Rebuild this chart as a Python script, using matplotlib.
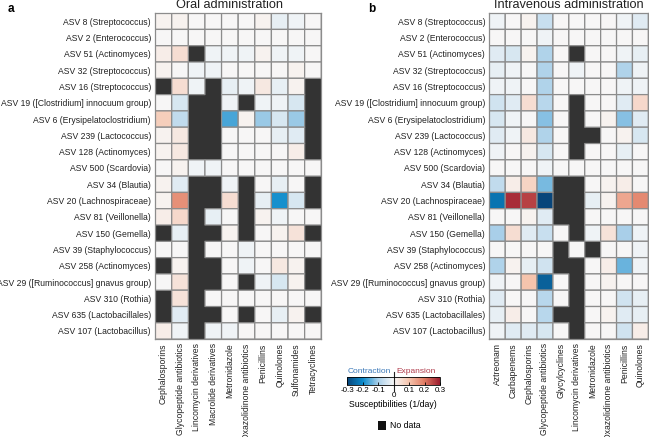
import numpy as np
import matplotlib
matplotlib.use("Agg")
import matplotlib.pyplot as plt
from matplotlib.colors import LinearSegmentedColormap, Normalize
from matplotlib.patches import Rectangle

plt.rcParams['font.family'] = ['Liberation Sans', 'DejaVu Sans']

nan = np.nan

asvs = ["ASV 8 (Streptococcus)", "ASV 2 (Enterococcus)", "ASV 51 (Actinomyces)",
        "ASV 32 (Streptococcus)", "ASV 16 (Streptococcus)",
        "ASV 19 ([Clostridium] innocuum group)", "ASV 6 (Erysipelatoclostridium)",
        "ASV 239 (Lactococcus)", "ASV 128 (Actinomyces)", "ASV 500 (Scardovia)",
        "ASV 34 (Blautia)", "ASV 20 (Lachnospiraceae)", "ASV 81 (Veillonella)",
        "ASV 150 (Gemella)", "ASV 39 (Staphylococcus)", "ASV 258 (Actinomyces)",
        "ASV 29 ([Ruminococcus] gnavus group)", "ASV 310 (Rothia)",
        "ASV 635 (Lactobacillales)", "ASV 107 (Lactobacillus)"]

oral_drugs = ["Cephalosporins", "Glycopeptide antibiotics", "Lincomycin derivatives",
              "Macrolide derivatives", "Metronidazole", "Oxazolidinone antibiotics",
              "Penicillins", "Quinolones", "Sulfonamides", "Tetracyclines"]

iv_drugs = ["Aztreonam", "Carbapenems", "Cephalosporins", "Glycopeptide antibiotics",
            "Glycylcyclines", "Lincomycin derivatives", "Metronidazole",
            "Oxazolidinone antibiotics", "Penicillins", "Quinolones"]

# susceptibilities (1/day), nan = no data
oral = np.array([
    [0.01, 0.01, 0.0, 0.0, 0.0, 0.0, 0.01, -0.02, -0.01, 0.0],
    [0.0, 0.0, 0.0, 0.0, 0.0, 0.0, 0.0, 0.0, 0.0, 0.0],
    [0.02, 0.05, nan, -0.01, -0.01, -0.01, 0.01, -0.01, -0.01, 0.0],
    [0.01, 0.0, -0.01, -0.01, 0.0, 0.0, 0.0, 0.0, 0.01, 0.0],
    [nan, 0.05, -0.01, nan, -0.02, -0.01, 0.03, -0.02, 0.01, nan],
    [0.0, -0.04, nan, nan, -0.01, nan, -0.01, -0.01, -0.04, nan],
    [0.08, -0.07, nan, nan, -0.16, 0.01, -0.11, -0.04, -0.11, nan],
    [0.01, 0.03, nan, nan, 0.0, 0.0, 0.0, -0.02, -0.03, nan],
    [0.01, 0.03, nan, nan, 0.0, 0.0, 0.0, 0.0, 0.02, nan],
    [0.0, 0.01, -0.01, -0.01, 0.0, 0.0, 0.0, 0.0, 0.0, 0.0],
    [0.01, -0.03, nan, nan, -0.01, nan, 0.0, -0.02, 0.0, nan],
    [0.01, 0.17, nan, nan, 0.05, nan, -0.02, -0.19, -0.04, nan],
    [0.02, 0.06, nan, -0.02, 0.0, nan, 0.01, -0.01, 0.0, 0.0],
    [nan, -0.02, nan, nan, 0.01, nan, 0.0, 0.01, 0.04, nan],
    [0.0, 0.0, nan, 0.0, 0.0, -0.01, 0.0, 0.0, 0.0, 0.0],
    [nan, 0.01, nan, nan, 0.0, -0.01, 0.0, 0.03, 0.01, nan],
    [0.0, 0.04, nan, nan, 0.0, nan, -0.01, -0.04, 0.01, nan],
    [nan, 0.04, nan, 0.0, 0.0, 0.0, 0.0, 0.0, 0.0, 0.0],
    [nan, -0.03, nan, nan, 0.0, nan, 0.0, -0.02, 0.01, nan],
    [0.02, -0.01, nan, -0.01, -0.01, 0.0, 0.0, 0.0, 0.0, 0.0],
])

iv = np.array([
    [-0.01, 0.0, 0.01, -0.06, 0.0, 0.0, 0.0, 0.0, -0.01, -0.03],
    [0.0, 0.0, 0.0, -0.01, 0.0, 0.0, 0.0, 0.0, 0.0, 0.0],
    [-0.03, -0.04, 0.01, -0.09, 0.0, nan, 0.0, 0.0, -0.01, -0.02],
    [-0.02, -0.01, 0.0, -0.09, 0.0, -0.01, 0.0, 0.0, -0.09, -0.01],
    [-0.01, -0.01, 0.0, -0.09, 0.0, 0.0, 0.0, 0.0, -0.01, -0.01],
    [-0.05, -0.03, 0.05, -0.08, 0.0, nan, 0.0, 0.0, -0.03, 0.06],
    [-0.04, -0.01, 0.0, -0.12, 0.0, nan, 0.0, 0.01, -0.12, -0.03],
    [-0.03, -0.01, 0.03, -0.09, 0.0, nan, nan, 0.0, 0.01, -0.04],
    [-0.01, 0.0, 0.01, -0.04, 0.0, nan, 0.0, 0.0, -0.02, 0.0],
    [0.0, 0.0, 0.0, -0.01, 0.0, 0.0, 0.0, 0.0, 0.0, 0.0],
    [-0.07, 0.02, 0.07, -0.13, nan, nan, 0.0, 0.01, 0.02, 0.0],
    [-0.23, 0.28, 0.26, -0.30, nan, nan, -0.02, 0.01, 0.14, 0.18],
    [0.0, 0.0, 0.01, -0.03, nan, nan, 0.0, 0.0, 0.0, 0.0],
    [-0.1, 0.05, -0.03, -0.06, 0.0, nan, -0.01, 0.04, -0.1, -0.01],
    [0.0, 0.0, 0.0, 0.0, nan, 0.0, nan, 0.0, 0.0, -0.01],
    [-0.09, 0.01, -0.02, -0.05, nan, nan, 0.0, 0.02, -0.14, -0.01],
    [-0.01, 0.0, 0.1, -0.26, 0.0, nan, 0.0, 0.01, 0.0, 0.0],
    [-0.03, 0.0, 0.0, -0.08, 0.0, nan, 0.0, 0.0, -0.05, -0.02],
    [-0.02, 0.02, 0.0, -0.08, nan, nan, 0.0, 0.01, -0.03, -0.02],
    [-0.01, -0.03, -0.03, -0.04, 0.0, nan, 0.0, 0.0, -0.05, 0.02],
])

cmap = LinearSegmentedColormap.from_list("susc", [
    (0.0, "#08457a"), (1/6, "#0a8acb"), (2/6, "#a9cfe9"), (0.5, "#f7f7f7"),
    (4/6, "#f5c4ad"), (5/6, "#e07a62"), (1.0, "#9b1b2e")])
norm = Normalize(-0.3, 0.3)
nodata = "#333333"
edge = "#8c8c8c"
fs = 6.2


def heat(ax, data, cols, title, tx=0.5):
    m = np.ma.masked_invalid(data)
    ax.set_facecolor(nodata)
    ax.pcolor(m, cmap=cmap, norm=norm, edgecolors=edge, linewidth=0.9)
    ax.set_xlim(0, data.shape[1])
    ax.set_ylim(data.shape[0], 0)
    ax.set_xticks(np.arange(data.shape[1]) + 0.5)
    ax.set_xticklabels(cols, rotation=90, fontsize=fs, color="#222222")
    ax.set_yticks(np.arange(data.shape[0]) + 0.5)
    ax.set_yticklabels(asvs, fontsize=fs, color="#222222")
    ax.tick_params(length=0, pad=3)
    for s in ax.spines.values():
        s.set_color(edge)
        s.set_linewidth(0.9)
    ax.text(tx, 1.008, title, transform=ax.transAxes, ha="center", va="bottom",
            fontsize=9.2, color="#222222")


fig = plt.figure(figsize=(6.49, 4.37), dpi=100)
ax1 = fig.add_axes([0.239, 0.224, 0.256, 0.746])
ax2 = fig.add_axes([0.754, 0.224, 0.245, 0.746])
heat(ax1, oral, oral_drugs, "Oral administration", tx=0.45)
heat(ax2, iv, iv_drugs, "Intravenous administration")

fig.text(0.012, 0.993, "a", fontsize=8.5, fontweight="bold", va="top")
fig.text(0.567, 0.993, "b", fontsize=8.5, fontweight="bold", va="top")

# colorbar
cax = fig.add_axes([0.535, 0.119, 0.143, 0.018])
cb = fig.colorbar(plt.cm.ScalarMappable(norm=norm, cmap=cmap), cax=cax,
                  orientation="horizontal")
cb.outline.set_linewidth(0.6)
cb.set_ticks([-0.3, -0.2, -0.1, 0.1, 0.2, 0.3])
cb.set_ticklabels(["-0.3", "-0.2", "-0.1", "0.1", "0.2", "0.3"])
cax.tick_params(labelsize=5.8, length=2, width=0.6, direction="in", pad=1.5)
cax.axvline(0, ymin=-0.8, ymax=1.7, color="#222222", lw=0.8, clip_on=False)
cax.text(0, -0.85, "0", transform=cax.get_xaxis_transform(), ha="center",
         va="top", fontsize=5.8)
cax.text(-0.015, 1.25, "Contraction", transform=cax.get_xaxis_transform(),
         ha="right", va="bottom", fontsize=6, color="#3a78b8")
cax.text(0.015, 1.25, "Expansion", transform=cax.get_xaxis_transform(),
         ha="left", va="bottom", fontsize=6, color="#b03a4a")
fig.text(0.606, 0.074, "Susceptibilities (1/day)", ha="center", va="center",
         fontsize=6.3)

fig.patches.append(Rectangle((0.582, 0.016), 0.013, 0.02, transform=fig.transFigure,
                             facecolor="#111111", edgecolor="none"))
fig.text(0.601, 0.026, "No data", va="center", fontsize=6.3)

fig.savefig("out.png", dpi=100)
